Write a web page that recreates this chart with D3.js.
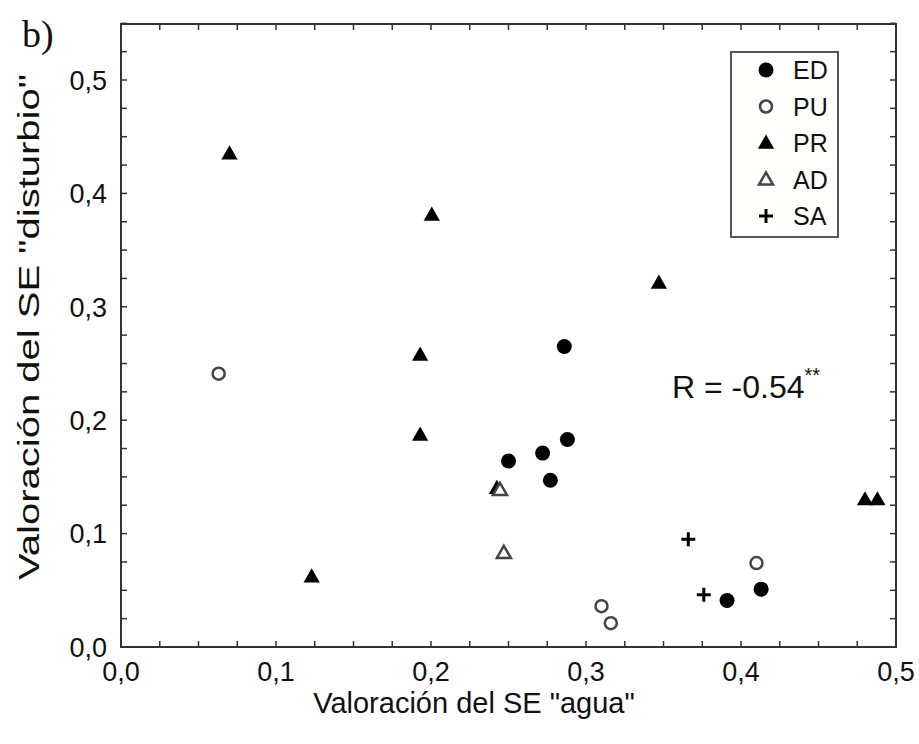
<!DOCTYPE html>
<html><head><meta charset="utf-8">
<script src="https://cdn.jsdelivr.net/npm/d3@7"></script>
<style>body{margin:0;background:#fff}svg{display:block}</style>
</head><body>
<script>
const groups = ["ED","PU","PR","AD","SA"];
const edX = [0.286,0.288,0.272,0.250,0.277,0.391,0.413];
const edY = [0.265,0.183,0.171,0.164,0.147,0.041,0.051];
const puX = [0.063,0.310,0.316,0.410];
const puY = [0.241,0.036,0.021,0.074];
const prX = [0.070,0.2005,0.347,0.193,0.193,0.123,0.2425,0.480,0.488];
const prY = [0.435,0.381,0.321,0.2575,0.187,0.062,0.140,0.130,0.130];
const adX = [0.2445,0.247];
const adY = [0.1385,0.083];
const saX = [0.366,0.376];
const saY = [0.095,0.046];
const xTicks = [0,0.1,0.2,0.3,0.4,0.5];
const yTicks = [0,0.1,0.2,0.3,0.4,0.5];
const rLabel = "R = -0.54";

const W=919,H=744;
const svg=d3.select("body").append("svg").attr("width",W).attr("height",H);
const L=121,R=896,T=24,B=647;
const x=d3.scaleLinear().domain([0,0.5]).range([L,R]);
const y=d3.scaleLinear().domain([0,0.55]).range([B,B-0.55*1134]);
const font="Arial, 'Liberation Sans', sans-serif";
const fmt=d=>d3.format(".1f")(d).replace(".",",");

// ticks (minor every 0.025, inward, all four sides)
const minorX=d3.range(0,0.5001,0.025), minorY=d3.range(0,0.5501,0.025);
const tl=6, axc="#333";
const tg=svg.append("g").attr("stroke",axc).attr("stroke-width",1.5);
minorX.forEach(v=>{
  tg.append("line").attr("x1",x(v)).attr("x2",x(v)).attr("y1",B).attr("y2",B-tl);
  tg.append("line").attr("x1",x(v)).attr("x2",x(v)).attr("y1",T).attr("y2",T+tl);
});
minorY.forEach(v=>{
  tg.append("line").attr("y1",y(v)).attr("y2",y(v)).attr("x1",L).attr("x2",L+tl);
  tg.append("line").attr("y1",y(v)).attr("y2",y(v)).attr("x1",R).attr("x2",R-tl);
});
svg.append("rect").attr("x",L).attr("y",T).attr("width",R-L).attr("height",B-T)
  .attr("fill","none").attr("stroke",axc).attr("stroke-width",2);

// tick labels
svg.append("g").selectAll("text").data(xTicks).join("text")
  .attr("x",d=>x(d)).attr("y",681).attr("text-anchor","middle")
  .attr("font-family",font).attr("font-size",27).attr("fill","#111").text(fmt);
svg.append("g").selectAll("text").data(yTicks).join("text")
  .attr("x",107).attr("y",d=>y(d)).attr("dy","0.36em").attr("text-anchor","end")
  .attr("font-family",font).attr("font-size",27).attr("fill","#111").text(fmt);

// titles
svg.append("text").attr("x",474).attr("y",713).attr("text-anchor","middle")
  .attr("font-family",font).attr("font-size",29).attr("fill","#111")
  .text('Valoración del SE "agua"');
svg.append("text").attr("transform","translate(39,327) rotate(-90) scale(1.38,1)").attr("text-anchor","middle")
  .attr("font-family",font).attr("font-size",29).attr("fill","#111")
  .text('Valoración del SE "disturbio"');
svg.append("text").attr("x",22).attr("y",47).attr("font-family","'Liberation Serif','Times New Roman',serif")
  .attr("font-size",38).attr("fill","#111").text("b)");

// markers
const tri=d3.symbol().type(d3.symbolTriangle).size(115);
function drawMarker(g,type,cx,cy){
  if(type==="ED") g.append("circle").attr("cx",cx).attr("cy",cy).attr("r",7.5).attr("fill","#000");
  else if(type==="PU") g.append("circle").attr("cx",cx).attr("cy",cy).attr("r",6).attr("fill","#fff").attr("stroke","#444").attr("stroke-width",2.5);
  else if(type==="PR") g.append("path").attr("d",tri()).attr("transform",`translate(${cx},${cy+1})`).attr("fill","#000");
  else if(type==="AD") g.append("path").attr("d",d3.symbol().type(d3.symbolTriangle).size(85)()).attr("transform",`translate(${cx},${cy+1})`).attr("fill","#fff").attr("stroke","#444").attr("stroke-width",2.5);
  else if(type==="SA") g.append("path").attr("d",`M${cx-7},${cy}H${cx+7}M${cx},${cy-7}V${cy+7}`).attr("stroke","#000").attr("stroke-width",3);
}
const pg=svg.append("g");
const series={ED:[edX,edY],PU:[puX,puY],PR:[prX,prY],AD:[adX,adY],SA:[saX,saY]};
["PR","AD","ED","PU","SA"].forEach(k=>{
  const [xs,ys]=series[k];
  xs.forEach((v,i)=>drawMarker(pg,k,x(v),y(ys[i])));
});

// R label
const rt=svg.append("text").attr("x",672).attr("y",398).attr("font-family",font).attr("font-size",32).attr("fill","#111");
rt.append("tspan").text(rLabel);
rt.append("tspan").attr("font-size",20).attr("dy",-16).text("**");

// legend
const lg=svg.append("g");
lg.append("rect").attr("x",731).attr("y",52).attr("width",107).attr("height",185)
  .attr("fill","#fffffb").attr("stroke","#555").attr("stroke-width",2);
groups.forEach((gname,i)=>{
  const cy=70+i*36.5;
  drawMarker(lg,gname,766,cy);
  lg.append("text").attr("x",793).attr("y",cy).attr("dy","0.36em").attr("font-family",font)
    .attr("font-size",25).attr("fill","#111").text(gname);
});
</script>
</body></html>
